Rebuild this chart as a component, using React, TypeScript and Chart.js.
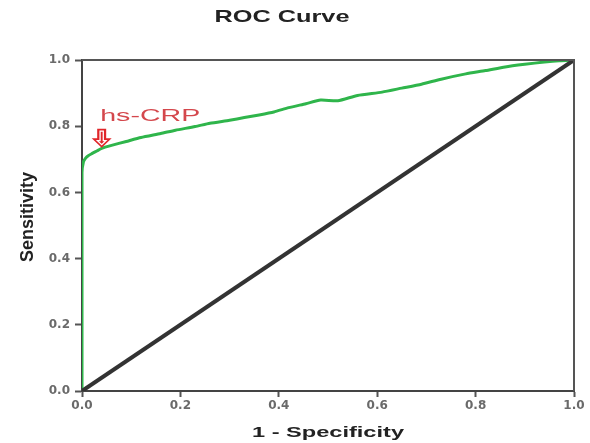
import React, { useEffect, useRef } from 'react';
import { Chart, registerables } from 'chart.js';

Chart.register(...registerables);

// ---- data ----
const FPR = [0, 0, 0.003, 0.007, 0.012, 0.02, 0.03, 0.04, 0.06, 0.09, 0.12, 0.16, 0.19, 0.23, 0.26, 0.30, 0.33, 0.36, 0.39, 0.42, 0.455, 0.485, 0.52, 0.56, 0.61, 0.65, 0.69, 0.73, 0.78, 0.82, 0.86, 0.90, 0.94, 0.97, 1.0];
const TPR = [0, 0.66, 0.693, 0.703, 0.71, 0.717, 0.725, 0.733, 0.742, 0.754, 0.766, 0.778, 0.788, 0.799, 0.809, 0.818, 0.826, 0.834, 0.843, 0.856, 0.868, 0.879, 0.877, 0.893, 0.903, 0.915, 0.927, 0.942, 0.958, 0.968, 0.979, 0.987, 0.994, 0.998, 1.0];
const REF_X = [0, 1];
const REF_Y = [0, 1];
const TICKS = [0, 0.2, 0.4, 0.6, 0.8, 1.0];

const TITLE = 'ROC Curve';
const X_TITLE = '1 - Specificity';
const Y_TITLE = 'Sensitivity';
const LABEL = 'hs-CRP';
const LABEL_AT = [0.037, 0.817];
const ARROW_AT = [0.04, 0.735];

function drawText(
  ctx: CanvasRenderingContext2D,
  text: string,
  x: number,
  y: number,
  font: string,
  color: string,
  width: number,
  align: CanvasTextAlign,
  rotate = 0
) {
  ctx.save();
  ctx.font = font;
  ctx.fillStyle = color;
  const w = ctx.measureText(text).width;
  const s = width / w;
  ctx.translate(x, y);
  if (rotate) ctx.rotate(rotate);
  ctx.scale(s, 1);
  ctx.textAlign = align;
  ctx.textBaseline = 'alphabetic';
  ctx.fillText(text, 0, 0);
  ctx.restore();
}

const decor = {
  id: 'decor',
  afterDatasetsDraw(chart: any) {
    const { ctx, chartArea: a, scales } = chart;
    const xs = scales.x;
    const ys = scales.y;
    // frame
    ctx.save();
    ctx.strokeStyle = '#555';
    ctx.lineWidth = 2;
    ctx.beginPath();
    ctx.moveTo(a.left, a.top);
    ctx.lineTo(a.right, a.top);
    ctx.lineTo(a.right, a.bottom);
    ctx.stroke();
    ctx.restore();

    // arrow
    const tx = xs.getPixelForValue(ARROW_AT[0]);
    const ty = ys.getPixelForValue(ARROW_AT[1]);
    ctx.save();
    ctx.translate(tx, ty);
    ctx.fillStyle = '#e0262a';
    ctx.beginPath();
    ctx.moveTo(-4.5, -19);
    ctx.lineTo(4.5, -19);
    ctx.lineTo(4.5, -9.5);
    ctx.lineTo(10, -9.5);
    ctx.lineTo(0, 0);
    ctx.lineTo(-10, -9.5);
    ctx.lineTo(-4.5, -9.5);
    ctx.closePath();
    ctx.fill();
    ctx.strokeStyle = '#ffffff';
    ctx.lineWidth = 1.3;
    ctx.beginPath();
    ctx.moveTo(-1.6, -16.5);
    ctx.lineTo(1.6, -16.5);
    ctx.lineTo(1.6, -7);
    ctx.lineTo(4.2, -7);
    ctx.lineTo(0, -3);
    ctx.lineTo(-4.2, -7);
    ctx.lineTo(-1.6, -7);
    ctx.closePath();
    ctx.stroke();
    ctx.restore();

    // annotation text
    drawText(
      ctx,
      LABEL,
      xs.getPixelForValue(LABEL_AT[0]),
      ys.getPixelForValue(LABEL_AT[1]),
      '17px "Liberation Sans", Arial, sans-serif',
      '#d4474c',
      100,
      'left'
    );
  },
  afterDraw(chart: any) {
    const { ctx, chartArea: a } = chart;
    drawText(ctx, TITLE, 282, 22, 'bold 17px "Liberation Sans", Arial, sans-serif', '#222', 135, 'center');
    drawText(ctx, X_TITLE, (a.left + a.right) / 2, 437, 'bold 15px "Liberation Sans", Arial, sans-serif', '#222', 152, 'center');
    drawText(ctx, Y_TITLE, 33, 217, 'bold 18px "Liberation Sans", Arial, sans-serif', '#222', 90, 'center', -Math.PI / 2);
  },
};

export default function App() {
  const ref = useRef<HTMLCanvasElement | null>(null);

  useEffect(() => {
    if (!ref.current) return;
    const tickFont = { family: '"DejaVu Sans", sans-serif', size: 12, weight: 'bold' as const };
    const setTicks = (s: any) => {
      s.ticks = TICKS.map((v) => ({ value: v }));
    };
    const chart = new Chart(ref.current, {
      type: 'scatter',
      data: {
        datasets: [
          {
            label: 'Reference',
            data: REF_X.map((x, i) => ({ x, y: REF_Y[i] })),
            showLine: true,
            borderColor: '#333333',
            borderWidth: 4,
            pointRadius: 0,
            fill: false,
          },
          {
            label: LABEL,
            data: FPR.map((x, i) => ({ x, y: TPR[i] })),
            showLine: true,
            borderColor: '#2fb54b',
            borderWidth: 3,
            pointRadius: 0,
            tension: 0.2,
            fill: false,
          },
        ],
      },
      options: {
        animation: false,
        responsive: false,
        devicePixelRatio: 1,
        layout: { padding: { top: 60, right: 16, bottom: 0, left: 10 } },
        plugins: {
          legend: { display: false },
          title: { display: false },
          tooltip: { enabled: false },
        },
        scales: {
          x: {
            type: 'linear',
            min: 0,
            max: 1,
            afterBuildTicks: setTicks,
            afterFit: (s: any) => {
              s.height = 52;
            },
            grid: { drawOnChartArea: false, drawTicks: true, tickLength: 6, tickColor: '#555', tickWidth: 2 },
            border: { display: true, color: '#444', width: 2 },
            ticks: {
              autoSkip: false,
              maxRotation: 0,
              padding: 2,
              color: '#6a6a6a',
              font: tickFont,
              callback: (v: any) => Number(v).toFixed(1),
            },
          },
          y: {
            type: 'linear',
            min: 0,
            max: 1,
            afterBuildTicks: setTicks,
            afterFit: (s: any) => {
              s.width = 72;
            },
            grid: { drawOnChartArea: false, drawTicks: true, tickLength: 7, tickColor: '#555', tickWidth: 2 },
            border: { display: true, color: '#444', width: 2 },
            ticks: {
              autoSkip: false,
              padding: 5,
              color: '#6a6a6a',
              font: tickFont,
              callback: (v: any) => Number(v).toFixed(1),
            },
          },
        },
      },
      plugins: [decor],
    });
    return () => chart.destroy();
  }, []);

  return (
    <div style={{ position: 'absolute', left: 0, top: 0, width: 590, height: 443, background: '#fff' }}>
      <canvas ref={ref} width={590} height={443} style={{ width: 590, height: 443, display: 'block' }} />
    </div>
  );
}
